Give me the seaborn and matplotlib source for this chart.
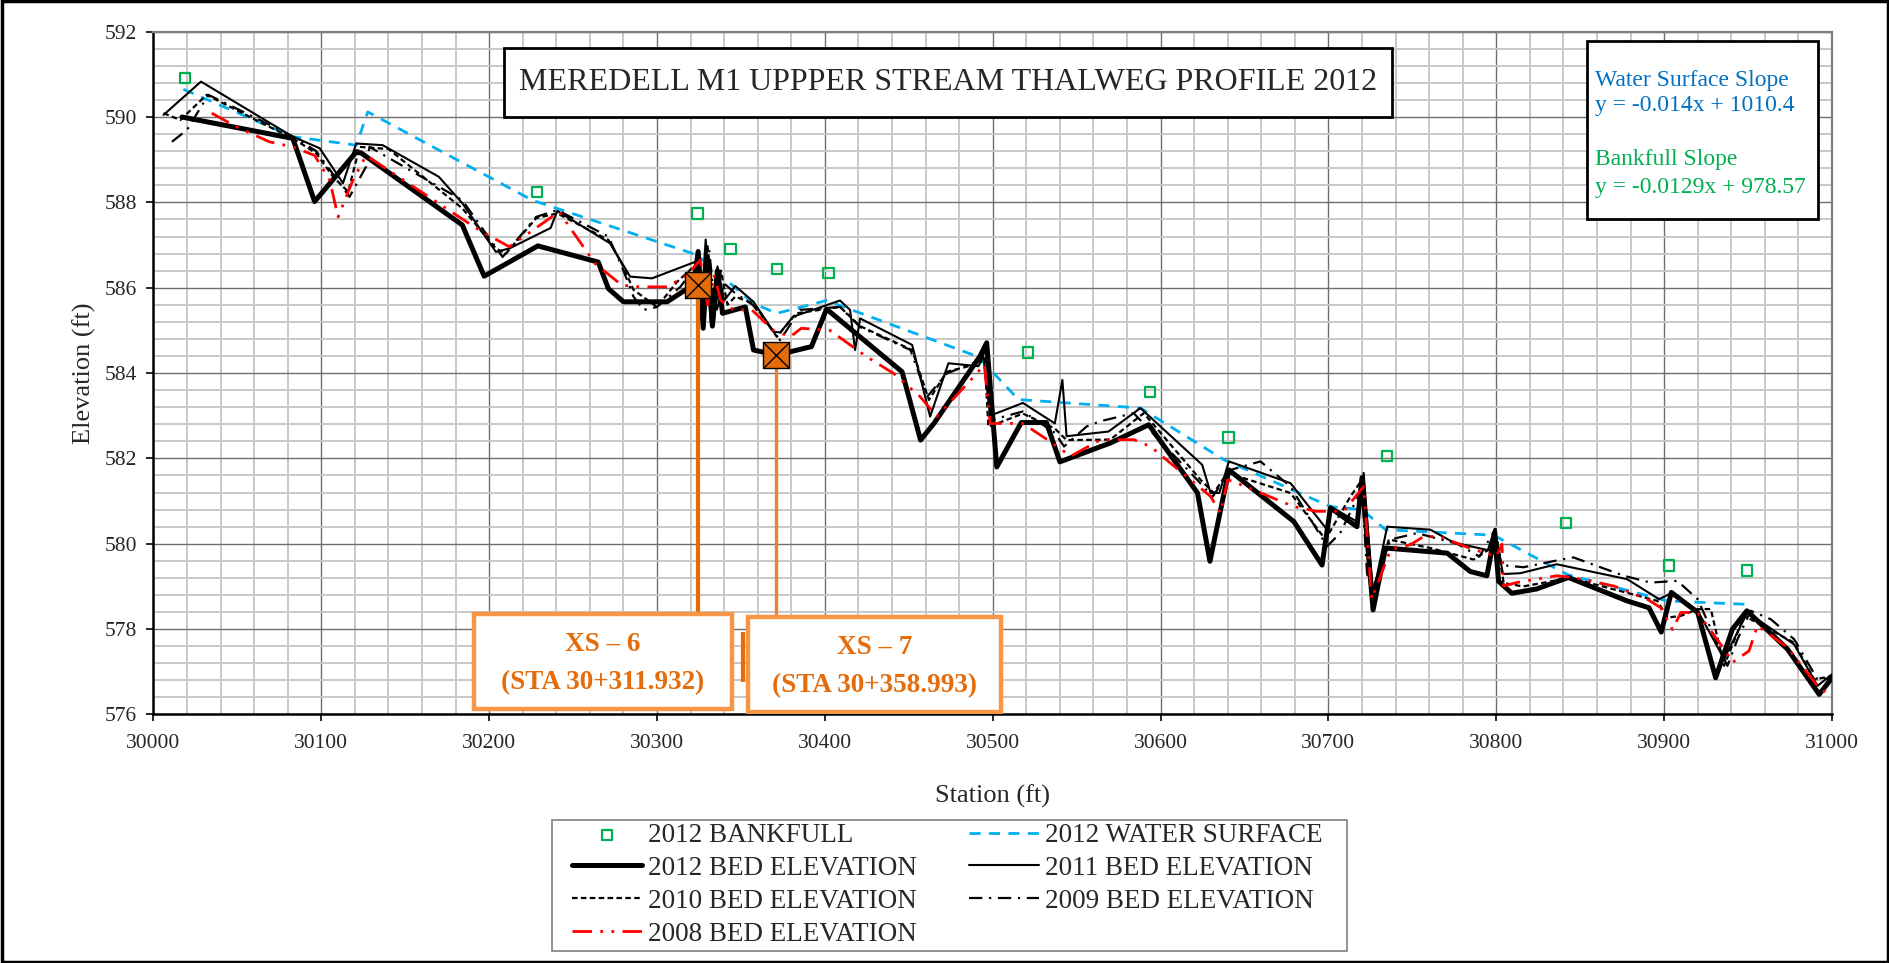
import pandas as pd
import matplotlib
matplotlib.use("Agg")
import matplotlib.pyplot as plt
from matplotlib.patches import Rectangle
from matplotlib.ticker import MultipleLocator
import seaborn as sns

# ---------------------------------------------------------------
# data (station ft, elevation ft)
# ---------------------------------------------------------------
bankfull_sta = [30018.8, 30228.7, 30324.2, 30343.7, 30371.4, 30402.2, 30521.2,
                30593.5, 30640.5, 30734.9, 30841.6, 30902.9, 30949.4]
bankfull_elev = [590.92, 588.25, 587.74, 586.90, 586.44, 586.34, 584.48,
                 583.55, 582.49, 582.05, 580.49, 579.49, 579.37]

water_sta = [30017.8, 30083, 30120.8, 30127.7, 30225.7, 30323.8, 30357.5, 30371.4,
             30401, 30491.5, 30515.3, 30588, 30637.7, 30701.2, 30720, 30734,
             30798.4, 30842.2, 30902, 30949.6]
water_elev = [590.65, 589.54, 589.34, 590.12, 588.05, 586.77, 585.63, 585.40,
              585.70, 584.38, 583.38, 583.18, 581.97, 580.87, 580.80, 580.33,
              580.20, 579.28, 578.66, 578.58]

bed2012_sta = [30017, 30083, 30096, 30121, 30124, 30184, 30197, 30229, 30265, 30271,
               30280, 30306, 30317, 30322, 30324.5, 30327.5, 30330, 30333, 30336, 30339,
               30352.6, 30357.5, 30364.5, 30371, 30392, 30401, 30446, 30457, 30465, 30492.5,
               30496.4, 30502.4, 30517, 30532, 30540, 30570, 30593, 30622, 30629.4, 30640.7,
               30679.4, 30696.2, 30701.2, 30717, 30720, 30726.6, 30734, 30770.8, 30784.5, 30794.4,
               30799, 30801.4, 30809.3, 30824, 30843, 30878, 30891, 30898.3, 30904.3, 30920,
               30930.7, 30940.7, 30949.3, 30973.5, 30992.4, 31000]
bed2012_elev = [590.00, 589.50, 588.02, 589.19, 589.15, 587.47, 586.27, 586.98, 586.60, 585.98,
                585.67, 585.67, 585.95, 586.10, 586.85, 585.05, 586.70, 585.10, 586.40, 585.40,
                585.55, 584.54, 584.48, 584.42, 584.62, 585.50, 584.03, 582.43, 582.82, 584.40,
                584.71, 581.80, 582.84, 582.84, 581.92, 582.36, 582.79, 581.19, 579.59, 581.73,
                580.52, 579.50, 580.84, 580.40, 581.55, 578.45, 579.90, 579.78, 579.35, 579.25,
                580.20, 579.12, 578.84, 578.94, 579.21, 578.66, 578.50, 577.93, 578.86, 578.39,
                576.86, 578.00, 578.43, 577.53, 576.47, 576.86]

bed2011_sta = [30006, 30028.3, 30083, 30099, 30112.9, 30120.8, 30136.6, 30170, 30184, 30204,
               30212, 30236.6, 30240.6, 30272, 30284, 30297, 30323, 30326, 30329, 30332,
               30336, 30340, 30346.6, 30357.5, 30369.4, 30373.4, 30381, 30409, 30415, 30418,
               30421, 30452, 30462.7, 30473.6, 30491.5, 30494.4, 30498.4, 30518, 30537, 30541.5,
               30544, 30569, 30588, 30624.8, 30629.8, 30635, 30640.7, 30677.4, 30699.2, 30701.2,
               30717, 30721, 30726.5, 30735, 30760.7, 30774.6, 30795, 30799, 30804, 30814.3,
               30836, 30878, 30897, 30905, 30920, 30935.7, 30949.6, 30977.5, 30991.4, 31000]
bed2011_elev = [590.05, 590.83, 589.54, 589.27, 588.45, 589.38, 589.34, 588.60, 587.98, 586.84,
                586.92, 587.40, 587.80, 587.04, 586.26, 586.22, 586.61, 585.30, 587.13, 585.20,
                586.50, 585.70, 586.04, 585.67, 584.97, 584.95, 585.32, 585.70, 585.48, 584.54,
                585.28, 584.66, 582.98, 584.23, 584.16, 584.40, 583.00, 583.30, 582.82, 583.84,
                582.52, 582.63, 583.18, 581.85, 581.19, 581.19, 581.93, 581.42, 580.33, 580.87,
                580.52, 581.66, 578.80, 580.40, 580.33, 580.03, 579.85, 580.35, 579.29, 579.31,
                579.52, 579.17, 578.70, 578.86, 578.43, 577.30, 578.39, 577.64, 576.67, 576.94]

bed2010_sta = [30006, 30016, 30031.7, 30065, 30083, 30097, 30107, 30116, 30122.8, 30140,
               30184, 30204, 30210, 30228, 30240.6, 30271, 30279, 30286, 30300, 30312,
               30322, 30326, 30330, 30334, 30338, 30342, 30346.6, 30357.5, 30371.4, 30383,
               30409, 30421, 30452, 30462, 30472.6, 30492.5, 30495, 30497.4, 30518, 30537,
               30544, 30570, 30590, 30623.8, 30631.7, 30639.7, 30677.4, 30698.2, 30713, 30720,
               30724, 30727, 30736, 30760.7, 30786.5, 30797, 30799.5, 30804.4, 30816, 30844,
               30878, 30896, 30902, 30910, 30920, 30927.8, 30935.7, 30947.7, 30977.5, 30989.4,
               31000]
bed2010_elev = [590.09, 589.93, 590.52, 589.85, 589.50, 589.15, 588.60, 588.25, 589.30, 589.25,
                587.86, 586.92, 586.80, 587.63, 587.74, 587.12, 586.57, 585.95, 585.55, 586.14,
                586.50, 585.40, 587.00, 585.30, 586.40, 585.60, 585.79, 585.63, 584.85, 585.40,
                585.55, 585.10, 584.54, 583.37, 584.03, 584.23, 584.50, 582.74, 583.05, 582.70,
                582.43, 582.44, 583.06, 581.50, 581.19, 581.66, 581.19, 580.10, 581.10, 581.50,
                579.50, 578.90, 580.10, 579.90, 579.63, 579.90, 580.30, 579.08, 579.00, 579.20,
                578.85, 578.66, 578.27, 578.31, 578.47, 578.47, 577.14, 578.31, 577.68, 576.82,
                576.90]

bed2009_sta = [30011, 30020, 30032.7, 30065, 30083, 30097, 30116.8, 30126.7, 30128.7, 30184,
               30208, 30228, 30240.6, 30271, 30279, 30286, 30292, 30300, 30313.9, 30323,
               30327, 30331, 30335, 30340, 30346.6, 30357, 30373.4, 30385, 30409, 30421,
               30451, 30461, 30472.6, 30492.5, 30496, 30499, 30518, 30537, 30542.5, 30556,
               30564, 30584, 30621.8, 30631, 30641.7, 30659.5, 30677.4, 30699.2, 30707, 30720,
               30723, 30726, 30737, 30752.8, 30776.6, 30790, 30799.5, 30803, 30816.3, 30835,
               30846, 30876, 30892, 30907.9, 30920, 30937.7, 30943.7, 30951.6, 30963.6, 30977.5,
               30991.4, 31000]
bed2009_elev = [589.42, 589.70, 590.52, 589.90, 589.54, 589.20, 588.13, 588.84, 589.30, 588.05,
                586.72, 587.66, 587.82, 587.20, 586.50, 585.79, 585.48, 585.55, 586.02, 586.50,
                585.50, 586.90, 585.40, 586.10, 585.87, 585.60, 584.77, 585.48, 585.55, 585.08,
                584.54, 583.45, 583.99, 584.30, 584.60, 582.90, 583.10, 582.60, 582.28, 582.75,
                582.87, 583.06, 581.50, 581.10, 581.73, 581.93, 581.34, 579.94, 580.25, 581.30,
                579.30, 578.90, 580.10, 580.25, 580.00, 579.70, 580.35, 579.50, 579.45, 579.60,
                579.68, 579.25, 579.09, 579.13, 578.70, 577.14, 577.76, 578.43, 578.23, 577.76,
                576.82, 576.85]

bed2008_sta = [30034.7, 30049.5, 30069, 30083, 30096, 30105, 30110, 30118.8, 30126.7, 30194,
               30212, 30241.6, 30263, 30279, 30290, 30306, 30318, 30325.8, 30330, 30334,
               30338, 30345.6, 30356.5, 30369.4, 30379.4, 30386, 30403, 30425, 30441, 30456.7,
               30466.7, 30490.5, 30495, 30498.4, 30518, 30538.5, 30546.4, 30564.3, 30584, 30594,
               30617.8, 30629.8, 30635.7, 30640, 30645.6, 30679.4, 30693, 30709, 30721, 30725.8,
               30737, 30749, 30756.7, 30766, 30784, 30800, 30803.4, 30804.4, 30812, 30836,
               30846, 30870, 30890, 30898, 30905, 30910, 30920, 30935.7, 30940.7, 30950.6,
               30955.6, 30973.5, 30991.4, 31000]
bed2008_elev = [590.09, 589.77, 589.42, 589.30, 589.10, 588.52, 587.66, 588.52, 589.10, 587.35,
                586.96, 587.78, 586.57, 586.06, 586.02, 586.02, 586.30, 586.65, 585.60, 586.30,
                585.70, 585.48, 585.48, 585.00, 584.85, 585.05, 585.00, 584.38, 583.99, 583.45,
                582.98, 583.99, 584.20, 582.82, 582.82, 582.28, 582.05, 582.44, 582.44, 582.28,
                581.50, 581.11, 580.72, 581.50, 581.42, 580.87, 580.76, 580.76, 581.34, 578.70,
                579.86, 579.98, 580.17, 580.17, 579.90, 579.70, 579.99, 579.01, 579.09, 579.25,
                579.21, 579.01, 578.70, 578.50, 577.99, 578.39, 578.39, 577.53, 577.22, 577.49,
                578.08, 577.57, 576.67, 576.40]

# cross section markers
xs_sta = [30324.2, 30370.7]
xs_elev = [586.06, 584.42]
xs_box_top = 578.3
xs_titles = ["XS \u2013 6", "XS \u2013 7"]
xs_stations = ["(STA 30+311.932)", "(STA 30+358.993)"]

# ---------------------------------------------------------------
sns.set_theme(style="white")
plt.rcParams["font.family"] = ["Liberation Serif", "DejaVu Serif"]

fig = plt.figure(figsize=(18.9, 9.63), dpi=100)
ax = fig.add_axes([0.0812, 0.2581, 0.8881, 0.7090])

ORANGE = "#E46C0A"

sns.scatterplot(x=bankfull_sta, y=bankfull_elev, ax=ax, marker="s", s=55,
                facecolor="none", edgecolor="#00B050", linewidth=1.6,
                label="2012 BANKFULL", zorder=4)
sns.lineplot(x=water_sta, y=water_elev, ax=ax, color="#00B0F0", lw=2.0,
             linestyle=(0, (4, 3)), sort=False, estimator=None,
             label="2012 WATER SURFACE", zorder=3)
sns.lineplot(x=bed2012_sta, y=bed2012_elev, ax=ax, color="black", lw=3.6,
             sort=False, estimator=None, label="2012 BED ELEVATION", zorder=3)
sns.lineplot(x=bed2011_sta, y=bed2011_elev, ax=ax, color="black", lw=1.5,
             sort=False, estimator=None, label="2011 BED ELEVATION", zorder=3)
sns.lineplot(x=bed2010_sta, y=bed2010_elev, ax=ax, color="black", lw=1.6,
             linestyle=(0, (2.5, 1.5)), sort=False, estimator=None,
             label="2010 BED ELEVATION", zorder=3)
sns.lineplot(x=bed2009_sta, y=bed2009_elev, ax=ax, color="black", lw=1.6,
             linestyle=(0, (6, 3, 1, 3)), sort=False, estimator=None,
             label="2009 BED ELEVATION", zorder=3)
sns.lineplot(x=bed2008_sta, y=bed2008_elev, ax=ax, color="#FF0000", lw=2.0,
             linestyle=(0, (7, 3, 1, 3, 1, 3)), sort=False, estimator=None,
             label="2008 BED ELEVATION", zorder=3)

# cross-section leaders and markers
for i, (s, e) in enumerate(zip(xs_sta, xs_elev)):
    ax.plot([s, s], [e, xs_box_top], color=ORANGE if i == 0 else "#EE8030",
            lw=3.0 if i == 0 else 2.4, zorder=5, solid_capstyle="butt")
sns.scatterplot(x=xs_sta, y=xs_elev, ax=ax, marker="s", s=330, color=ORANGE,
                edgecolor="black", linewidth=1.0, zorder=6, legend=False)
sns.scatterplot(x=xs_sta, y=xs_elev, ax=ax, marker="x", s=330, color="black",
                linewidth=1.0, zorder=7, legend=False)

# axes, ticks, grid
ax.set_xlim(30000, 31000)
ax.set_ylim(576, 592)
ax.xaxis.set_major_locator(MultipleLocator(100))
ax.xaxis.set_minor_locator(MultipleLocator(20))
ax.yaxis.set_major_locator(MultipleLocator(2))
ax.yaxis.set_minor_locator(MultipleLocator(0.4))
ax.grid(which="minor", color="#C8C8C8", lw=1.4)
ax.grid(which="major", color="#6E6E6E", lw=1.0)
ax.set_axisbelow(True)
ax.tick_params(which="major", direction="out", length=5, width=1.2,
               color="black", labelsize=15.5, bottom=True, left=True)
ax.tick_params(axis="x", pad=9)
ax.tick_params(axis="y", pad=7)
ax.tick_params(which="minor", length=0)
for side in ["left", "bottom"]:
    ax.spines[side].set_color("black")
    ax.spines[side].set_linewidth(1.8)
for side in ["top", "right"]:
    ax.spines[side].set_color("#7F7F7F")
    ax.spines[side].set_linewidth(1.6)

ax.set_xlabel("Station (ft)", fontsize=19, labelpad=23)
ax.set_ylabel("Elevation (ft)", fontsize=19, labelpad=6)

# title box
ax.add_patch(Rectangle((0.2086, 0.8751), 0.5292, 0.1010, transform=ax.transAxes,
                       facecolor="white", edgecolor="black", lw=2.0, zorder=8))
ax.text(0.4732, 0.9256, "MEREDELL M1 UPPPER STREAM THALWEG PROFILE 2012",
        transform=ax.transAxes, ha="center", va="center", fontsize=23, zorder=9)

# slope box
ax.add_patch(Rectangle((0.854, 0.7257), 0.1377, 0.2607, transform=ax.transAxes,
                       facecolor="white", edgecolor="black", lw=2.0, zorder=8))
slope_lines = [("Water Surface Slope", "#0070C0", 0.9292),
               ("y = -0.014x + 1010.4", "#0070C0", 0.8912),
               ("Bankfull Slope", "#00B050", 0.8122),
               ("y = -0.0129x + 978.57", "#00B050", 0.7712)]
for txt, col, yy in slope_lines:
    ax.text(0.8588, yy, txt, transform=ax.transAxes, ha="left", va="center",
            fontsize=17, color=col, zorder=9)

# cross-section label boxes
xs_boxes = [(0.1907, 0.0081, 0.1537, 0.1391), (0.3540, 0.0037, 0.1508, 0.1391)]
for (x0, y0, w, h), t1, t2 in zip(xs_boxes, xs_titles, xs_stations):
    ax.add_patch(Rectangle((x0, y0), w, h, transform=ax.transAxes, facecolor="white",
                           edgecolor="#F79646", lw=3.2, zorder=8))
    ax.text(x0 + w / 2, y0 + h * 0.68, t1, transform=ax.transAxes, ha="center",
            va="center", fontsize=19.5, fontweight="bold", color=ORANGE, zorder=9)
    ax.text(x0 + w / 2, y0 + h * 0.28, t2, transform=ax.transAxes, ha="center",
            va="center", fontsize=19.5, fontweight="bold", color=ORANGE, zorder=9)
# stray leader stub beside the XS-7 box
ax.plot([0.351, 0.351], [0.0476, 0.1208], transform=ax.transAxes, color=ORANGE,
        lw=3.0, zorder=8, solid_capstyle="butt")

# legend in row order of the original, frame drawn separately
handles, labels = ax.get_legend_handles_labels()
lookup = dict(zip(labels, handles))
order = ["2012 BANKFULL", "2012 BED ELEVATION", "2010 BED ELEVATION", "2008 BED ELEVATION",
         "2012 WATER SURFACE", "2011 BED ELEVATION", "2009 BED ELEVATION"]
leg = ax.legend([lookup[k] for k in order], order, ncol=2, loc="upper left",
                bbox_to_anchor=(572 / 1890, 1 - 823 / 963), bbox_transform=fig.transFigure,
                fontsize=19.5, frameon=False, handlelength=2.6, handletextpad=0.22,
                columnspacing=1.9, labelspacing=0.29, borderpad=0, borderaxespad=0)
fig.add_artist(Rectangle((552 / 1890, 1 - 951 / 963), 795 / 1890, 131 / 963,
                         transform=fig.transFigure, fill=False, edgecolor="#808080", lw=1.2))

# outer frame
fig.add_artist(Rectangle((0.001, 0.001), 0.998, 0.998, transform=fig.transFigure,
                         fill=False, edgecolor="black", lw=2.5))

fig.savefig("out.png", dpi=100)
